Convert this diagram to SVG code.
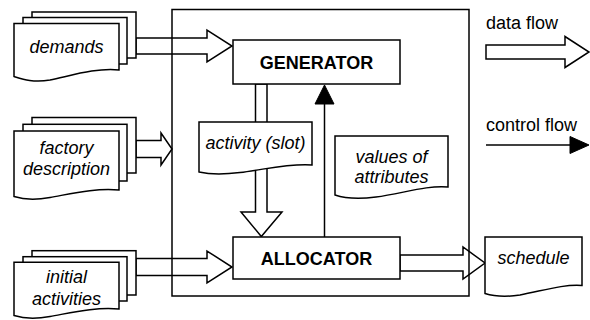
<svg xmlns="http://www.w3.org/2000/svg" width="590" height="320" viewBox="0 0 590 320">
  <style>
    .ln { fill: #fff; stroke: #000; stroke-width: 1.5; stroke-linejoin: miter; }
    .open { fill: none; stroke: #000; stroke-width: 1.5; }
    .solid { fill: #000; stroke: #000; stroke-width: 1; }
    text { font-family: "Liberation Sans", Arial, sans-serif; font-size: 18px; fill: #000; text-anchor: middle; }
    .doc { font-style: italic; }
    .proc { font-weight: bold; }
    .key { text-anchor: start; }
  </style>

  <!-- data and control flows -->
  <g id="connectors">
    <!-- demands -> generator -->
    <polygon class="ln" points="136,38 207,38 207,30 232,46 207,62 207,54 136,54"/>
    <!-- factory description -> system -->
    <polygon class="ln" points="136,140.5 161,140.5 161,133 172,149 161,165 161,157.5 136,157.5"/>
    <!-- initial activities -> allocator -->
    <polygon class="ln" points="136,258.5 207,258.5 207,251 232,267 207,283 207,275.5 136,275.5"/>
    <!-- allocator -> schedule -->
    <polygon class="ln" points="400,255 463,255 463,247 485,263 463,279 463,271 400,271"/>
    <!-- generator -> allocator (activity slot) -->
    <polygon class="ln" points="255.5,84 267,84 267,212 282,212 261.3,236.5 241,212 255.5,212"/>
    <!-- allocator -> generator (control) -->
    <line class="open" x1="324.5" y1="237" x2="324.5" y2="103"/>
    <polygon class="solid" points="315,104 334,104 324.5,85"/>
  </g>

  <!-- scheduler boundary -->
  <g id="system">
    <rect class="open" x="172" y="9.5" width="297" height="286.5"/>
  </g>

  <g id="demands">
    <rect class="ln" x="32" y="12" width="104" height="46"/>
    <rect class="ln" x="23" y="17.5" width="104" height="46.5"/>
    <path class="ln" d="M14,23.5 H119 V70 C96,67.5 70,76 50,80 C33,83 22,79 14,76.5 Z"/>
    <text class="doc" x="66.5" y="52.5">demands</text>
  </g>

  <g id="factory">
    <rect class="ln" x="32" y="117.5" width="104" height="55.5"/>
    <rect class="ln" x="23" y="124.3" width="104" height="56.7"/>
    <path class="ln" d="M14,131 H119 V190 C96,187.5 70,194 50,197.5 C33,200.5 22,199 14,196.5 Z"/>
    <text class="doc" x="66.5" y="154">factory</text>
    <text class="doc" x="66.5" y="174.5">description</text>
  </g>

  <g id="initial">
    <rect class="ln" x="32" y="250.7" width="104" height="44.3"/>
    <rect class="ln" x="23" y="256.7" width="104" height="44.3"/>
    <path class="ln" d="M14,262.3 H119 V309 C96,306.5 70,313 50,316.5 C33,319.5 22,318 14,315.5 Z"/>
    <text class="doc" x="66.5" y="283.3">initial</text>
    <text class="doc" x="66.5" y="305">activities</text>
  </g>

  <g id="generator">
    <rect class="ln" x="233" y="40" width="167" height="44"/>
    <text class="proc" x="316.5" y="69">GENERATOR</text>
  </g>

  <g id="allocator">
    <rect class="ln" x="233" y="237" width="167" height="42"/>
    <text class="proc" x="316.5" y="265">ALLOCATOR</text>
  </g>

  <g id="activity">
    <path class="ln" d="M199,122 H312 V165 C290,163 265,169.5 240,172.5 C220,175 208,174 199,172 Z"/>
    <text class="doc" x="255.5" y="149">activity (slot)</text>
  </g>

  <g id="attributes">
    <path class="ln" d="M335,136 H448 V187 C426,185 401,194 376,197 C356,199.5 344,198 335,195 Z"/>
    <text class="doc" x="391.5" y="162.7">values of</text>
    <text class="doc" x="391.5" y="183.3">attributes</text>
  </g>

  <g id="schedule">
    <path class="ln" d="M485,237 H582 V285.5 C563,284 542,291 520,295 C503,297.5 493,296 485,293.5 Z"/>
    <text class="doc" x="533.5" y="264">schedule</text>
  </g>

  <!-- key -->
  <g id="legend">
    <text class="key" x="486" y="28.5">data flow</text>
    <polygon class="ln" points="486,45 565,45 565,36.5 589,52 565,67.5 565,59 486,59"/>
    <text class="key" x="486" y="131">control flow</text>
    <line class="open" x1="486" y1="145" x2="572" y2="145"/>
    <polygon class="solid" points="570,136.5 589,145 570,153.5"/>
  </g>
</svg>
